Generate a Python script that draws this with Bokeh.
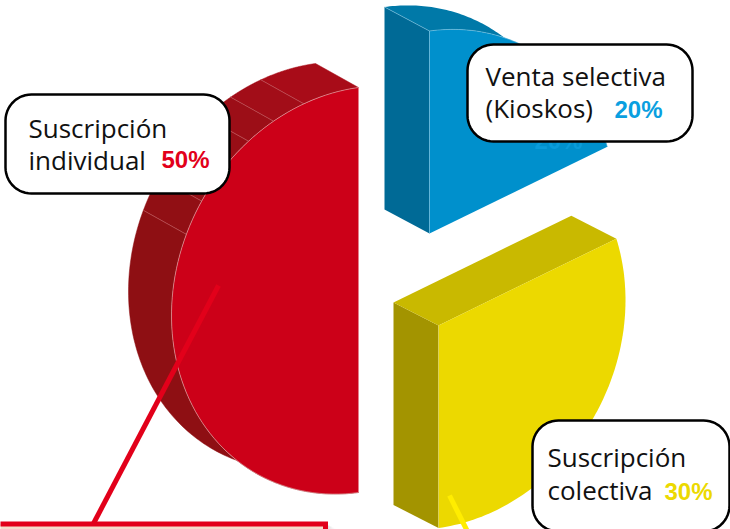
import numpy as np
from bokeh.plotting import figure
from bokeh.models import Range1d
from bokeh.core.properties import value
from bokeh.embed import file_html
from bokeh.resources import INLINE

# data
segments = ["Suscripción individual", "Suscripción colectiva", "Venta selectiva (Kioskos)"]
shares = [50, 30, 20]
pct_labels = ["50%", "30%", "20%"]
front_colors = ["#cc0018", "#ecd900", "#0090cc"]
side_colors = ["#8e0f13", "#a39400", "#006a96"]
top_colors = ["#a80c18", "#c9b900", "#0079a8"]
pct_colors = ["#e2001a", "#ecd900", "#0a9fe0"]
label_line1 = ["Suscripción", "Suscripción", "Venta selectiva"]
label_line2 = ["individual", "colectiva", "(Kioskos)"]

# layout of the exploded isometric pie
W, H = 730, 529
centers = [(358, 289.5), (438, 325), (429, 233)]
depths = [(-43, -24), (-45, -23), (-45, -24)]
R, UX, UY = 202.5, -187.0, 25.5


def proj(c, deg):
    a = np.radians(deg)
    return c[0] + np.sin(a) * UX, c[1] - np.cos(a) * R + np.sin(a) * UY


def arc(c, a0, a1, n=90):
    return proj(c, np.linspace(a0, a1, n))


def rounded(x0, y0, x1, y1, r):
    xs, ys = [], []
    for cx, cy, s in [(x1 - r, y0 + r, -90), (x1 - r, y1 - r, 0), (x0 + r, y1 - r, 90), (x0 + r, y0 + r, 180)]:
        a = np.radians(np.linspace(s, s + 90, 14))
        xs += list(cx + r * np.cos(a))
        ys += list(cy + r * np.sin(a))
    return xs, ys


p = figure(width=W, height=H, x_range=Range1d(0, W), y_range=Range1d(H, 0),
           toolbar_location=None, output_backend="svg", min_border=0)
p.axis.visible = False
p.grid.visible = False
p.outline_line_color = None
p.background_fill_color = "#ffffff"

# cumulative angles, counter-clockwise from the top
edges = np.cumsum([0] + shares) * 3.6
EDGE = "#e9b9b9"

# Red slice: curved rim in bands
c, d = centers[0], depths[0]
band_edges = [0, 17, 27, 36, 46, 57, 67, 180]
band_colors = ["#a80c18", "#a20d18", "#9c0e17", "#980e16", "#940f15", "#910f14", "#8e0f13"]
for a0, a1, col in zip(band_edges[:-1], band_edges[1:], band_colors):
    fx, fy = arc(c, a0, a1)
    p.patch(list(fx) + list(fx[::-1] + d[0]), list(fy) + list(fy[::-1] + d[1]),
            fill_color=col, line_color=col, line_width=0.5)
for a in band_edges[1:-1]:
    if a == 46:
        continue
    fx, fy = proj(c, a)
    p.line([fx, fx + d[0]], [fy, fy + d[1]], line_color="#c9696f", line_width=0.6)
fx, fy = arc(c, edges[0], edges[1])
p.patch(fx, fy, fill_color=front_colors[0], line_color=None)
p.line(fx, fy, line_color=EDGE, line_width=0.6)

# Yellow slice
c, d = centers[1], depths[1]
ex, ey = proj(c, edges[2])
bx, by = proj(c, edges[1])
p.patch([c[0], bx, bx + d[0], c[0] + d[0]], [c[1], by, by + d[1], c[1] + d[1]],
        fill_color=side_colors[1], line_color=None)
p.patch([c[0], ex, ex + d[0], c[0] + d[0]], [c[1], ey, ey + d[1], c[1] + d[1]],
        fill_color=top_colors[1], line_color=None)
fx, fy = arc(c, edges[1], edges[2])
p.patch([c[0]] + list(fx), [c[1]] + list(fy), fill_color=front_colors[1], line_color=None)
p.line([c[0], bx], [c[1], by], line_color="#d8cf70", line_width=0.6)

# Blue slice
c, d = centers[2], depths[2]
fx, fy = arc(c, edges[2], edges[3])
p.patch(list(fx) + list(fx[::-1] + d[0]), list(fy) + list(fy[::-1] + d[1]),
        fill_color=top_colors[2], line_color=None)
tx, ty = proj(c, edges[3])
p.patch([c[0], tx, tx + d[0], c[0] + d[0]], [c[1], ty, ty + d[1], c[1] + d[1]],
        fill_color=side_colors[2], line_color=None)
p.patch([c[0]] + list(fx), [c[1]] + list(fy), fill_color=front_colors[2], line_color=None)
p.line(fx, fy, line_color="#7cc4e2", line_width=0.6)
p.line([c[0], tx, tx + d[0]], [c[1], ty, ty + d[1]], line_color="#7cc4e2", line_width=0.6)

# Leader lines
p.line([218, 93], [285, 523], line_color="#e2001a", line_width=5)
p.line([449, 468], [495, 533], line_color="#ffed00", line_width=5)

# Panel at the bottom edge (cut off by the page)
for i, al in enumerate([0.10, 0.07, 0.04, 0.02]):
    p.quad(left=[327 + i * 2], right=[329 + i * 2], top=[525 + i], bottom=[540],
           fill_color="#000000", fill_alpha=al, line_color=None)
p.quad(left=[-6], right=[325], top=[523.5], bottom=[545], fill_color="#f5dccb",
       line_color="#e2001a", line_width=5, line_join="miter")

# Hidden percent peeking under the blue label
p.text([558], [140], text=[pct_labels[2]], text_color="#0a9bd9", text_align="center",
       text_baseline="alphabetic", text_font=value("Liberation Sans"),
       text_font_style="bold", text_font_size="24px")

# Labels
boxes = [(5, 94, 229, 193), (532, 420, 729, 531), (467, 44, 692, 141)]
text_x = [28, 547, 485]
line1_y = [127, 456, 75]
line2_y = [159, 489, 107]
pct_x = [161, 664, 614]
pct_y = [159, 491, 109]
for i in range(3):
    bxs, bys = rounded(*boxes[i], 26)
    p.patch(bxs, bys, fill_color="#ffffff", line_color="#000000", line_width=2.5)
    p.text([text_x[i]], [line1_y[i]], text=[label_line1[i]], text_color="#111111",
           text_baseline="alphabetic", text_font=value("Open Sans"), text_font_size="26px")
    p.text([text_x[i]], [line2_y[i]], text=[label_line2[i]], text_color="#111111",
           text_baseline="alphabetic", text_font=value("Open Sans"), text_font_size="26px")
    p.text([pct_x[i]], [pct_y[i]], text=[pct_labels[i]], text_color=pct_colors[i],
           text_baseline="alphabetic", text_font=value("Liberation Sans"),
           text_font_style="bold", text_font_size="24px")

html = file_html(p, INLINE)
html = html.replace("</head>", "<style>html,body{margin:0;padding:0;overflow:hidden}</style></head>", 1)
open("out.html", "w").write(html)
